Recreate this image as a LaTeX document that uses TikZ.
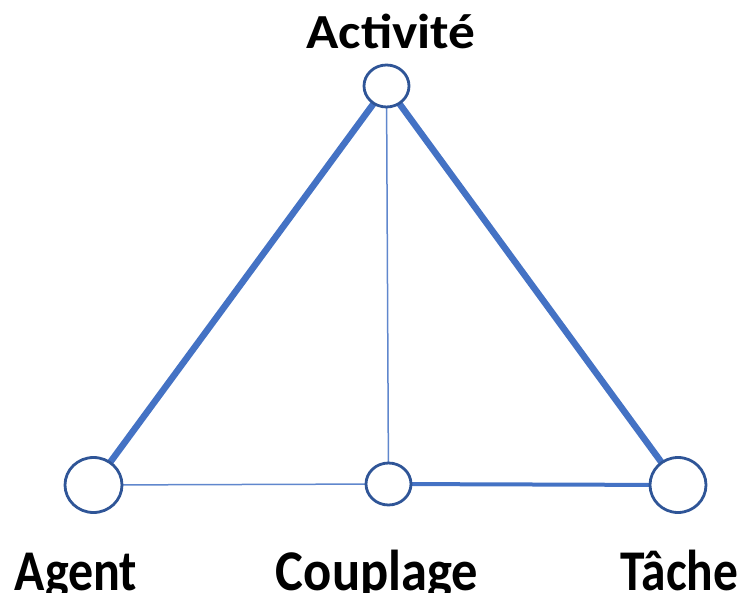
\documentclass[tikz,border=0pt]{standalone}
\usepackage{fontspec}
\setmainfont{Carlito}
\usepackage{tikz}
\usetikzlibrary{shapes.geometric, positioning}
\definecolor{edgeblue}{RGB}{68, 114, 196}
\definecolor{ringblue}{RGB}{47, 85, 151}

\begin{document}
\begin{tikzpicture}[x=1pt, y=-1pt,
  pole/.style={ellipse, draw=ringblue, line width=2.8pt, fill=white, inner sep=0pt},
  poletag/.style={font=\fontsize{51}{55}\selectfont\bfseries, inner sep=0pt, anchor=base}]
\useasboundingbox (0,0) rectangle (738,593);
% edges first, poles on top
\coordinate (act) at (386.5,86);
\coordinate (agt) at (93.5,485);
\coordinate (cpl) at (388.5,484);
\coordinate (tch) at (678,485);
\draw[edgeblue, line width=6.5pt] (agt)--(act);
\draw[edgeblue, line width=6.5pt] (act)--(tch);
\draw[edgeblue, line width=4pt] (cpl)--(tch);
\draw[edgeblue!85, line width=1.5pt] (agt)--(cpl);
\draw[edgeblue!85, line width=1.5pt] (act)--(cpl);
\node[pole, minimum width=45pt, minimum height=42pt] (a1) at (act) {};
\node[pole, minimum width=57pt, minimum height=55pt] (a2) at (agt) {};
\node[pole, minimum width=45pt, minimum height=42pt] (a3) at (cpl) {};
\node[pole, minimum width=56pt, minimum height=55pt] (a4) at (tch) {};
\node[poletag, font=\fontsize{49}{53}\selectfont\bfseries] (l1) at (391,49) {\scalebox{1.09}[1]{Activité}};
\node[poletag] (l2) at (76,590) {\scalebox{0.98}[1.13]{Agent}};
\node[poletag] (l3) at (377,590) {\scalebox{1.03}[1.13]{Couplage}};
\node[poletag] (l4) at (679.5,590) {\scalebox{0.97}[1.13]{Tâche}};
\end{tikzpicture}
\end{document}
